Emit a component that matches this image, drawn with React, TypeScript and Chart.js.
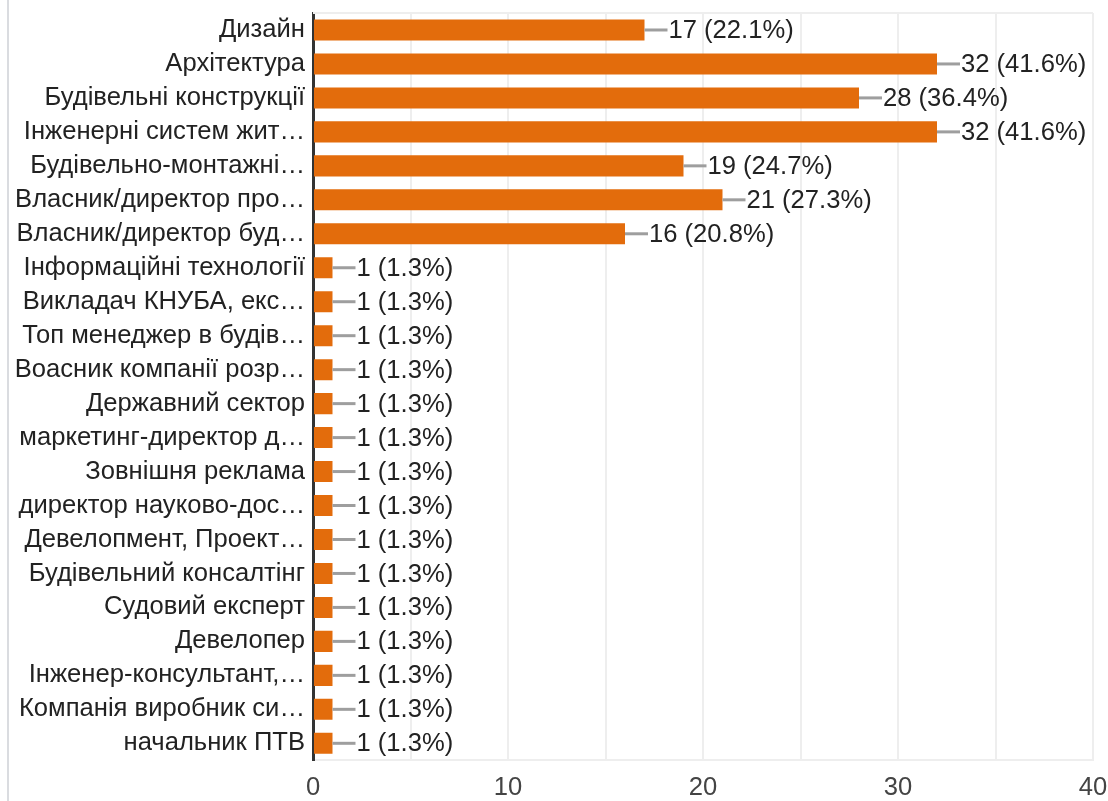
import React, { useEffect, useRef } from "react";
import { Chart, registerables } from "chart.js";

Chart.register(...registerables);

const categories = [
  "Дизайн",
  "Архітектура",
  "Будівельні конструкції",
  "Інженерні систем жит…",
  "Будівельно-монтажні…",
  "Власник/директор про…",
  "Власник/директор буд…",
  "Інформаційні технології",
  "Викладач КНУБА, екс…",
  "Топ менеджер в будів…",
  "Воасник компанії розр…",
  "Державний сектор",
  "маркетинг-директор д…",
  "Зовнішня реклама",
  "директор науково-дос…",
  "Девелопмент, Проект…",
  "Будівельний консалтінг",
  "Судовий експерт",
  "Девелопер",
  "Інженер-консультант,…",
  "Компанія виробник си…",
  "начальник ПТВ",
];

const counts = [17, 32, 28, 32, 19, 21, 16, 1, 1, 1, 1, 1, 1, 1, 1, 1, 1, 1, 1, 1, 1, 1];
const percents = [22.1, 41.6, 36.4, 41.6, 24.7, 27.3, 20.8, 1.3, 1.3, 1.3, 1.3, 1.3, 1.3, 1.3, 1.3, 1.3, 1.3, 1.3, 1.3, 1.3, 1.3, 1.3];

const xMin = 0;
const xMax = 40;
const xStep = 5;
const xLabelStep = 10;

const FONT = "'Liberation Sans', Arial, sans-serif";
const FONT_SIZE = 25.6;
const BAR_COLOR = "#e36c0c";
const GRID_COLOR = "#eeeeee";

const valueLabelPlugin = {
  id: "valueLabels",
  afterDatasetsDraw(chart: any) {
    const ctx = chart.ctx;
    const meta = chart.getDatasetMeta(0);
    ctx.save();
    meta.data.forEach((el: any, i: number) => {
      const x = el.x;
      const y = el.y;
      ctx.strokeStyle = "#9e9e9e";
      ctx.lineWidth = 3;
      ctx.beginPath();
      ctx.moveTo(x, y);
      ctx.lineTo(x + 23, y);
      ctx.stroke();
      ctx.fillStyle = "#222222";
      ctx.font = `${FONT_SIZE}px ${FONT}`;
      ctx.textAlign = "left";
      ctx.textBaseline = "middle";
      ctx.fillText(`${counts[i]} (${percents[i].toFixed(1)}%)`, x + 24, y + 1);
    });
    ctx.restore();
  },
};

const frameTopPlugin = {
  id: "frameTop",
  beforeDatasetsDraw(chart: any) {
    const { ctx, chartArea } = chart;
    ctx.save();
    ctx.strokeStyle = GRID_COLOR;
    ctx.lineWidth = 2;
    ctx.beginPath();
    ctx.moveTo(chartArea.left, chartArea.top);
    ctx.lineTo(chartArea.right, chartArea.top);
    ctx.stroke();
    ctx.restore();
  },
};

export default function App() {
  const ref = useRef<HTMLCanvasElement | null>(null);

  useEffect(() => {
    if (!ref.current) return;
    const chart = new Chart(ref.current, {
      type: "bar",
      data: {
        labels: categories,
        datasets: [
          {
            data: counts,
            backgroundColor: BAR_COLOR,
            borderWidth: 0,
            barPercentage: 0.62,
            categoryPercentage: 1,
          },
        ],
      },
      options: {
        indexAxis: "y",
        animation: false,
        responsive: false,
        maintainAspectRatio: false,
        layout: { padding: { top: 13, right: 15, bottom: 0, left: 0 } },
        plugins: {
          legend: { display: false },
          tooltip: { enabled: false },
        },
        scales: {
          x: {
            min: xMin,
            max: xMax,
            grid: { color: GRID_COLOR, lineWidth: 2, drawTicks: false },
            border: { display: true, color: GRID_COLOR, width: 2 },
            ticks: {
              stepSize: xStep,
              autoSkip: false,
              maxRotation: 0,
              padding: 12,
              color: "#444444",
              font: { family: FONT, size: FONT_SIZE },
              callback: (v: any) => (Number(v) % xLabelStep === 0 ? String(v) : ""),
            },
            afterFit: (scale: any) => {
              scale.paddingLeft = 0;
              scale.paddingRight = 0;
            },
          },
          y: {
            grid: { display: false, drawTicks: false },
            border: { display: true, color: "#333333", width: 3 },
            ticks: {
              autoSkip: false,
              padding: 8,
              color: "#222222",
              font: { family: FONT, size: FONT_SIZE },
            },
            afterFit: (scale: any) => {
              scale.width = 304;
              scale.paddingTop = 0;
              scale.paddingBottom = 0;
            },
          },
        },
      },
      plugins: [frameTopPlugin, valueLabelPlugin],
    });
    return () => chart.destroy();
  }, []);

  return (
    <div style={{ position: "fixed", left: 0, top: 0, width: 1108, height: 801, background: "#ffffff", overflow: "hidden" }}>
      <div style={{ position: "absolute", left: 7, top: 0, width: 2, height: 801, background: "#dadce0" }} />
      <canvas
        ref={ref}
        width={1099}
        height={815}
        style={{ position: "absolute", left: 9, top: 0, width: 1099, height: 815 }}
      />
    </div>
  );
}
